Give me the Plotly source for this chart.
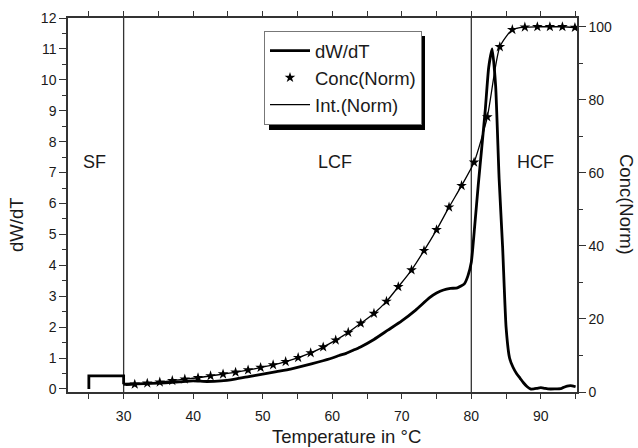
import plotly.graph_objects as go

# ---------------- data ----------------
dw_T = [25, 25, 30, 30, 32, 34, 36, 38, 40, 42, 44, 46, 48, 50, 52, 54, 56, 58, 60, 61, 62,
        63, 64, 66, 68, 70, 72, 74, 75, 76, 77, 78, 79, 79.5, 80, 80.5, 81, 81.5, 82, 82.5,
        83, 83.5, 84, 84.5, 85, 85.5, 86, 86.5, 87, 87.5, 88, 88.5, 89, 89.5, 90, 90.5, 91,
        92, 93, 93.5, 94, 94.5, 95]
dw_val = [0, 0.42, 0.42, 0.15, 0.16, 0.18, 0.2, 0.23, 0.26, 0.24, 0.26, 0.32, 0.4, 0.48,
          0.56, 0.64, 0.75, 0.87, 1.0, 1.08, 1.15, 1.25, 1.35, 1.6, 1.9, 2.2, 2.55, 2.95,
          3.1, 3.2, 3.25, 3.27, 3.4, 3.65, 4.1, 5.3, 6.6, 7.8, 9.0, 10.4, 11.0, 9.8, 6.8,
          4.6, 2.0, 1.0, 0.7, 0.5, 0.35, 0.2, 0.08, 0.0, 0.0, 0.02, 0.04, 0.02, 0.0, 0.0,
          0.02, 0.07, 0.1, 0.1, 0.07]

conc_T = [31.6, 33.4, 35.2, 37.0, 38.8, 40.7, 42.5, 44.3, 46.1, 47.9, 49.7, 51.5, 53.3,
          55.1, 56.9, 58.7, 60.5, 62.3, 64.1, 66.0, 67.8, 69.5, 71.4, 73.2, 75.0, 76.8,
          78.6, 80.4, 82.3, 84.1, 85.9, 87.7, 89.5, 91.3, 93.1, 94.9]
conc_val = [2.1, 2.4, 2.7, 3.1, 3.5, 3.9, 4.4, 4.9, 5.4, 6.0, 6.7, 7.4, 8.3, 9.4, 10.7,
            12.3, 14.2, 16.3, 18.8, 21.5, 24.8, 28.8, 33.4, 38.7, 44.4, 50.6, 56.5, 62.9,
            75.3, 94.5, 99.2, 99.9, 100, 100, 100, 99.8]

int_T = [30.3] + conc_T
int_val = [1.8] + conc_val

x_ticks = [30, 40, 50, 60, 70, 80, 90]
boundaries = [30, 80]
regions = ["SF", "LCF", "HCF"]
region_x = [25.8, 60.4, 89.2]
region_y = 7.35

FONT = "Liberation Sans, Arial, sans-serif"
INK = "#1a1a1a"

# plot-area geometry in pixels (used for paper-coordinate decorations)
W, H = 638, 448
ML, MR, MT, MB = 68, 61, 18, 56
PW, PH = W - ML - MR, H - MT - MB


def px(xp):
    return (xp - ML) / PW


def py(yp):
    return (H - MB - yp) / PH


fig = go.Figure()

# step part of dW/dT (linear), then smooth part
fig.add_trace(go.Scatter(x=dw_T[:4], y=dw_val[:4], mode="lines",
                         line=dict(color="black", width=2.8),
                         legendgroup="dw", showlegend=False, hoverinfo="skip"))
fig.add_trace(go.Scatter(x=dw_T[3:], y=dw_val[3:], mode="lines", name="dW/dT",
                         line=dict(color="black", width=2.8, shape="spline", smoothing=0.5),
                         legendgroup="dw"))
fig.add_trace(go.Scatter(x=conc_T, y=conc_val, mode="markers", name="Conc(Norm)",
                         marker=dict(symbol="star", size=8, color="black"),
                         yaxis="y2"))
fig.add_trace(go.Scatter(x=int_T, y=int_val, mode="lines", name="Int.(Norm)",
                         line=dict(color="black", width=1.3, shape="spline", smoothing=0.6),
                         yaxis="y2"))

for b in boundaries:
    fig.add_shape(type="line", xref="x", yref="paper", x0=b, x1=b, y0=0, y1=1,
                  line=dict(color="#333", width=1.3), layer="below")

for name, rx in zip(regions, region_x):
    fig.add_annotation(x=rx, y=region_y, xref="x", yref="y", text=name, showarrow=False,
                       font=dict(family=FONT, size=18, color=INK))

# legend shadow
fig.add_shape(type="rect", xref="paper", yref="paper",
              x0=px(269), x1=px(425), y0=py(130), y1=py(36),
              fillcolor="black", line=dict(width=0), layer="above")

# axis titles
title_font = dict(family=FONT, size=18.5, color=INK)
fig.add_annotation(xref="paper", yref="paper", x=px(346), y=py(436), text="Temperature in °C",
                   showarrow=False, font=title_font, xanchor="center", yanchor="middle")
fig.add_annotation(xref="paper", yref="paper", x=px(16), y=py(225), text="dW/dT",
                   textangle=-90, showarrow=False, font=title_font,
                   xanchor="center", yanchor="middle")
fig.add_annotation(xref="paper", yref="paper", x=px(627), y=py(204), text="Conc(Norm)",
                   textangle=90, showarrow=False, font=title_font,
                   xanchor="center", yanchor="middle")

axis_common = dict(showgrid=False, zeroline=False, linecolor="#333", linewidth=1.5,
                   tickcolor="#333", automargin=False,
                   tickfont=dict(family=FONT, size=14, color=INK))

fig.update_layout(
    width=W, height=H,
    margin=dict(l=ML, r=MR, t=MT, b=MB),
    paper_bgcolor="white", plot_bgcolor="white",
    font=dict(family=FONT, color=INK),
    xaxis=dict(range=[22, 95.2], tickvals=x_ticks,
               ticks="outside", ticklen=5, tickwidth=1.3, showline=True, mirror="allticks",
               ticklabelstandoff=5,
               minor=dict(dtick=5, tick0=0, ticks="outside", ticklen=3, tickcolor="#333"),
               **axis_common),
    yaxis=dict(range=[-0.1, 12], dtick=1, ticks="outside", ticklen=7, tickwidth=1.3,
               showline=True,
               minor=dict(dtick=0.5, ticks="outside", ticklen=4, tickcolor="#333"),
               **axis_common),
    yaxis2=dict(range=[0, 102.4], overlaying="y", side="right", dtick=20,
                ticks="outside", ticklen=7, tickwidth=1.3, showline=True,
                minor=dict(dtick=10, ticks="outside", ticklen=4, tickcolor="#333"),
                **axis_common),
    legend=dict(x=px(264), y=py(31), xanchor="left", yanchor="top",
                bgcolor="white", bordercolor="#777", borderwidth=1,
                font=dict(family=FONT, size=18.5, color=INK),
                itemwidth=40, tracegroupgap=0),
    showlegend=True,
)

fig.write_html("out.html")
